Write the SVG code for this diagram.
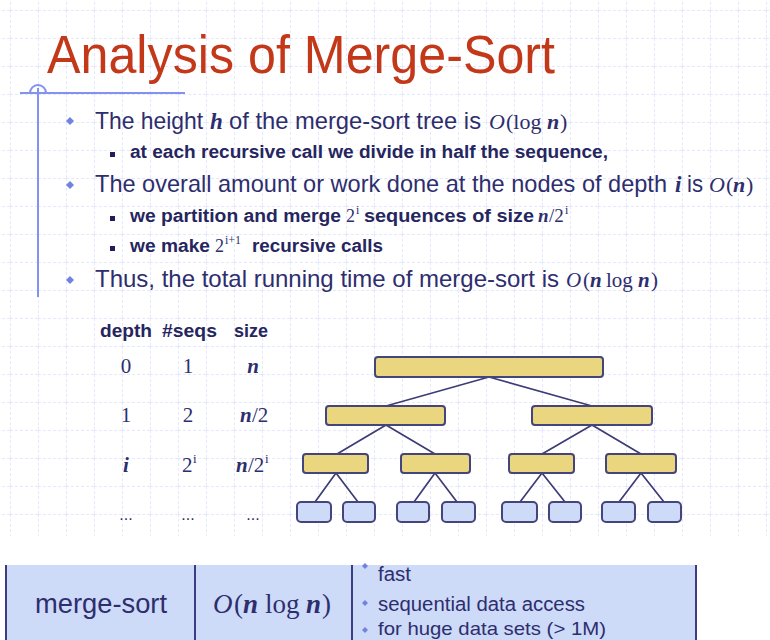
<svg xmlns="http://www.w3.org/2000/svg" width="770" height="640" viewBox="0 0 770 640">
<style>
.sans{font-family:"Liberation Sans",Arial,sans-serif;fill:#2e2e6e}
.title{font-family:"Liberation Sans",Arial,sans-serif;fill:#c4381a;font-size:53px}
.main{font-size:24px}
.sub{font-size:18px;font-weight:bold;fill:#26265f}
.m{font-family:"Liberation Serif","Times New Roman",serif;fill:#2e2e6e}
.mi{font-style:italic}
.mb{font-style:italic;font-weight:bold}
.num{font-family:"Liberation Serif","Times New Roman",serif;font-size:21px;fill:#2e2e6e}
.dia{fill:#7282e2}
.sq{fill:#1e1e5e}
.inner{fill:#e9d67e;stroke:#45457e;stroke-width:2}
.leaf{fill:#cddaf8;stroke:#45457e;stroke-width:2}
.edge{stroke:#3c3c76;stroke-width:1.7;fill:none}
.cell{fill:#cddaf8}
.bord{stroke:#3c3c80;stroke-width:2}
</style>
<defs>
<pattern id="grid" x="10" y="10" width="28" height="28" patternUnits="userSpaceOnUse">
<path d="M0 0.5H28M0.5 0V28" stroke="#e6e9fb" stroke-width="1" stroke-dasharray="3,2" fill="none"/>
</pattern>
<path id="dm" d="M0 -4L4 0L0 4L-4 0Z"/>
<path id="ds" d="M0 -3L3 0L0 3L-3 0Z"/>
</defs>
<rect width="770" height="640" fill="#ffffff"/>
<rect x="0" y="0" width="770" height="536" fill="url(#grid)"/>

<g id="title">
<text class="title" x="47" y="73" textLength="508" lengthAdjust="spacingAndGlyphs">Analysis of Merge-Sort</text>
</g>

<g id="decor" stroke="#8292f0" stroke-width="2" fill="none">
<path d="M20 93H185"/>
<path d="M38 88V297"/>
<path d="M30 93A8 8 0 0 1 46 93"/>
</g>

<g id="bullet1">
<use href="#dm" x="70" y="121" class="dia"/>
<text class="sans main" x="95" y="129" textLength="108" lengthAdjust="spacingAndGlyphs">The height</text>
<text class="m mb" font-size="23" x="210" y="129">h</text>
<text class="sans main" x="229" y="129" textLength="252" lengthAdjust="spacingAndGlyphs">of the merge-sort tree is</text>
<text class="m mi" font-size="22" x="489" y="129">O</text>
<text class="m" font-size="22" x="506" y="129">(log</text>
<text class="m mb" font-size="22" x="547" y="129">n</text>
<text class="m" font-size="22" x="560" y="129">)</text>
</g>
<g id="sub1">
<rect class="sq" x="110" y="152" width="5" height="5"/>
<text class="sans sub" x="130" y="158" textLength="478" lengthAdjust="spacingAndGlyphs">at each recursive call we divide in half the sequence,</text>
</g>
<g id="bullet2">
<use href="#dm" x="70" y="185" class="dia"/>
<text class="sans" font-size="23.4" x="95" y="192" textLength="572" lengthAdjust="spacingAndGlyphs">The overall amount or work done at the nodes of depth</text>
<text class="m mb" font-size="23" x="675" y="192">i</text>
<text class="sans main" x="687" y="192" textLength="16" lengthAdjust="spacingAndGlyphs">is</text>
<text class="m mi" font-size="22" x="709" y="192">O</text>
<text class="m" font-size="22" x="726" y="192">(</text>
<text class="m mb" font-size="22" x="733" y="192">n</text>
<text class="m" font-size="22" x="746" y="192">)</text>
</g>
<g id="sub2">
<rect class="sq" x="110" y="216" width="5" height="5"/>
<text class="sans sub" x="130" y="222" textLength="211" lengthAdjust="spacingAndGlyphs">we partition and merge</text>
<text class="m" font-size="18" x="346" y="222">2</text>
<text class="m" font-size="12" x="356" y="214">i</text>
<text class="sans sub" x="364" y="222" textLength="170" lengthAdjust="spacingAndGlyphs">sequences of size</text>
<text class="m mb" font-size="19" x="538" y="222">n</text>
<text class="m" font-size="19" x="549" y="222">/2</text>
<text class="m" font-size="12" x="565" y="214">i</text>
</g>
<g id="sub3">
<rect class="sq" x="110" y="246" width="5" height="5"/>
<text class="sans sub" x="130" y="252" textLength="80" lengthAdjust="spacingAndGlyphs">we make</text>
<text class="m" font-size="18" x="215" y="252">2</text>
<text class="m" font-size="12" x="225" y="244">i+1</text>
<text class="sans sub" x="252" y="252" textLength="131" lengthAdjust="spacingAndGlyphs">recursive calls</text>
</g>
<g id="bullet3">
<use href="#dm" x="70" y="280" class="dia"/>
<text class="sans main" x="95" y="287" textLength="464" lengthAdjust="spacingAndGlyphs">Thus, the total running time of merge-sort is</text>
<text class="m mi" font-size="21" x="566" y="287">O</text>
<text class="m" font-size="21" x="583" y="287">(</text>
<text class="m mb" font-size="21" x="590" y="287">n</text>
<text class="m" font-size="21" x="606" y="287">log</text>
<text class="m mb" font-size="21" x="638" y="287">n</text>
<text class="m" font-size="21" x="651" y="287">)</text>
</g>

<g id="table-head">
<text class="sans sub" x="100" y="337" textLength="52" lengthAdjust="spacingAndGlyphs">depth</text>
<text class="sans sub" x="162" y="337" textLength="55" lengthAdjust="spacingAndGlyphs">#seqs</text>
<text class="sans sub" x="234" y="337" textLength="34" lengthAdjust="spacingAndGlyphs">size</text>
</g>
<g id="row0">
<text class="num" x="126" y="373" text-anchor="middle">0</text>
<text class="num" x="188" y="373" text-anchor="middle">1</text>
<text class="num mb" x="253" y="373" text-anchor="middle">n</text>
</g>
<g id="row1">
<text class="num" x="126" y="422" text-anchor="middle">1</text>
<text class="num" x="188" y="422" text-anchor="middle">2</text>
<text class="num mb" x="240" y="422">n</text>
<text class="num" x="252" y="422">/2</text>
</g>
<g id="row2">
<text class="num mb" x="126" y="472" text-anchor="middle">i</text>
<text class="num" x="182" y="472">2</text>
<text class="m" font-size="13" x="193" y="463">i</text>
<text class="num mb" x="236" y="472">n</text>
<text class="num" x="248" y="472">/2</text>
<text class="m" font-size="13" x="265" y="463">i</text>
</g>
<g id="row3">
<text class="sans" font-size="16" x="126" y="520" text-anchor="middle">...</text>
<text class="sans" font-size="16" x="188" y="520" text-anchor="middle">...</text>
<text class="sans" font-size="16" x="253" y="520" text-anchor="middle">...</text>
</g>

<g id="connectors">
<path class="edge" d="M489 377L386 406M489 377L592 406"/>
<path class="edge" d="M386 425L337 454M386 425L435 454M592 425L542 454M592 425L641 454"/>
<path class="edge" d="M336 473L315 502M336 473L358 502M435 473L414 502M435 473L457 502M542 473L520 502M542 473L565 502M641 473L619 502M641 473L664 502"/>
</g>

<g id="n-root"><rect class="inner" x="375" y="357" width="228" height="20" rx="3"/></g>
<g id="n-l"><rect class="inner" x="326" y="406" width="119" height="19" rx="3"/></g>
<g id="n-r"><rect class="inner" x="532" y="406" width="120" height="19" rx="3"/></g>
<g id="n-ll"><rect class="inner" x="303" y="454" width="65" height="19" rx="3"/></g>
<g id="n-lr"><rect class="inner" x="401" y="454" width="69" height="19" rx="3"/></g>
<g id="n-rl"><rect class="inner" x="509" y="454" width="65" height="19" rx="3"/></g>
<g id="n-rr"><rect class="inner" x="606" y="454" width="70" height="19" rx="3"/></g>
<g id="leaf1"><rect class="leaf" x="297" y="502" width="34" height="20" rx="4"/></g>
<g id="leaf2"><rect class="leaf" x="343" y="502" width="32" height="20" rx="4"/></g>
<g id="leaf3"><rect class="leaf" x="397" y="502" width="32" height="20" rx="4"/></g>
<g id="leaf4"><rect class="leaf" x="442" y="502" width="33" height="20" rx="4"/></g>
<g id="leaf5"><rect class="leaf" x="502" y="502" width="35" height="20" rx="4"/></g>
<g id="leaf6"><rect class="leaf" x="549" y="502" width="32" height="20" rx="4"/></g>
<g id="leaf7"><rect class="leaf" x="602" y="502" width="33" height="20" rx="4"/></g>
<g id="leaf8"><rect class="leaf" x="648" y="502" width="33" height="20" rx="4"/></g>

<g id="summary">
<rect class="cell" x="5" y="565" width="691" height="80"/>
<path class="bord" d="M6 565V640M195 565V640M352 565V640M696 565V640"/>
<text class="sans" font-size="27" x="35" y="613" textLength="132" lengthAdjust="spacingAndGlyphs">merge-sort</text>
<text class="m mi" font-size="27" x="213" y="613">O</text>
<text class="m" font-size="27" x="234" y="613">(</text>
<text class="m mb" font-size="27" x="243" y="613">n</text>
<text class="m" font-size="27" x="265" y="613">log</text>
<text class="m mb" font-size="27" x="306" y="613">n</text>
<text class="m" font-size="27" x="322" y="613">)</text>
<use href="#ds" x="365" y="566" class="dia"/>
<text class="sans" font-size="20" x="378" y="581" textLength="33" lengthAdjust="spacingAndGlyphs">fast</text>
<use href="#ds" x="365" y="603" class="dia"/>
<text class="sans" font-size="20" x="378" y="611" textLength="207" lengthAdjust="spacingAndGlyphs">sequential data access</text>
<use href="#ds" x="365" y="630" class="dia"/>
<text class="sans" font-size="19" x="378" y="635" textLength="228" lengthAdjust="spacingAndGlyphs">for huge data sets (&gt; 1M)</text>
</g>
</svg>
